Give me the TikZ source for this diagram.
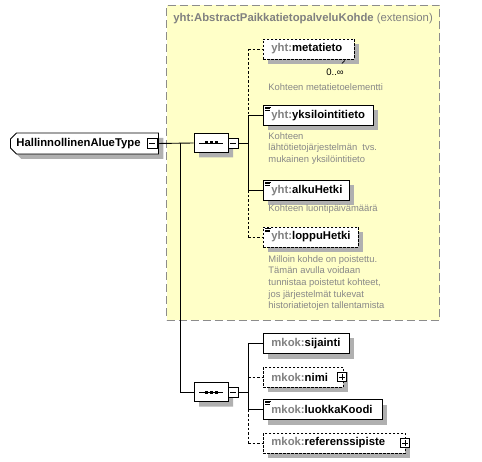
\documentclass[tikz,border=0pt]{standalone}
\usepackage{fontspec}
\setmainfont{Liberation Sans}
\usetikzlibrary{shapes.misc,shadows}
\definecolor{pfx}{HTML}{808080}
\definecolor{desctext}{HTML}{888888}
\definecolor{shade}{HTML}{B0B0B0}
\definecolor{extfill}{HTML}{FFFFC8}
\definecolor{extline}{HTML}{8C8C8C}
\newcommand{\yht}{{\color{pfx}yht:}}
\newcommand{\mkok}{{\color{pfx}mkok:}}
\begin{document}
\begin{tikzpicture}[x=1pt,y=-1pt,line width=0.9pt,
  shad/.style={drop shadow={shadow xshift=5pt,shadow yshift=-5pt,fill=shade,opacity=1}},
  elem/.style={draw=black,fill=white,rectangle,minimum height=20pt,inner xsep=8pt,inner ysep=0pt,
    text width=#1,anchor=west,align=left,font=\fontsize{11.3}{13}\selectfont\bfseries,shad},
  optelem/.style={elem=#1,dash pattern=on 2.5pt off 1.5pt},
  simple/.style={path picture={
    \draw[line width=0.6pt,solid] ([xshift=1.5pt,yshift=-1.6pt]path picture bounding box.north west) -- ++(6.5pt,0);
    \draw[line width=0.6pt,solid] ([xshift=1.5pt,yshift=-3.1pt]path picture bounding box.north west) -- ++(5pt,0);
    \draw[line width=0.6pt,solid] ([xshift=1.5pt,yshift=-4.6pt]path picture bounding box.north west) -- ++(5pt,0);}},
  descr/.style={anchor=north west,inner sep=0pt,align=left,text=desctext,
    font=\fontsize{9.4}{11.6}\selectfont},
  minusbox/.style={draw=black,fill=white,rectangle,minimum size=10pt,inner sep=0pt,line width=0.8pt,solid,
    path picture={\draw[line width=0.8pt] ([xshift=2pt]path picture bounding box.west) -- ([xshift=-2pt]path picture bounding box.east);}},
  plusbox/.style={draw=black,fill=white,rectangle,minimum size=9pt,inner sep=0pt,line width=0.8pt,solid,
    path picture={\draw[line width=0.8pt] ([xshift=1.8pt]path picture bounding box.west) -- ([xshift=-1.8pt]path picture bounding box.east);
      \draw[line width=0.8pt] ([yshift=-1.8pt]path picture bounding box.north) -- ([yshift=1.8pt]path picture bounding box.south);}},
  seqbox/.style={draw=black,fill=white,chamfered rectangle,chamfered rectangle xsep=5pt,chamfered rectangle ysep=5pt,
    minimum width=34pt,minimum height=19pt,inner sep=0pt,shad,
    path picture={\draw[line width=0.9pt,black] ([xshift=-12pt]path picture bounding box.center) -- ([xshift=12pt]path picture bounding box.center);
      \fill[black] ([xshift=-6.5pt,yshift=-1.5pt]path picture bounding box.center) rectangle ++(3pt,3pt);
      \fill[black] ([xshift=-1.5pt,yshift=-1.5pt]path picture bounding box.center) rectangle ++(3pt,3pt);
      \fill[black] ([xshift=3.5pt,yshift=-1.5pt]path picture bounding box.center) rectangle ++(3pt,3pt);}},
  typebox/.style={draw=black,fill=white,chamfered rectangle,chamfered rectangle corners={north west,south west},
    chamfered rectangle xsep=3pt,chamfered rectangle ysep=3pt,minimum height=21pt,inner xsep=3pt,inner ysep=0pt,
    text width=136pt,align=left,anchor=west,font=\fontsize{11.3}{13}\selectfont\bfseries,shad},
  optline/.style={dash pattern=on 2.5pt off 2pt}]
\useasboundingbox (0,0) rectangle (482,462);
% extension area
\node[draw=extline,fill=extfill,dash pattern=on 8pt off 4pt,line width=1pt,rectangle,
  minimum width=273pt,minimum height=315pt,anchor=north west,inner sep=0pt] (ext) at (166,5) {};
\node[anchor=base west,inner sep=0pt,text=pfx,font=\fontsize{11.3}{13}\selectfont] (title) at (173,22)
  {\bfseries yht:AbstractPaikkatietopalveluKohde \mdseries(extension)};
% main type
\node[typebox] (main) at (10,143.5) {HallinnollinenAlueType};
\node[minusbox] (mm) at (152,143.5) {};
% sequences
\node[seqbox] (s1) at (211,143) {};
\node[minusbox] (s1m) at (233,143) {};
\node[seqbox] (s2) at (211,392) {};
\node[minusbox] (s2m) at (233,392) {};
\coordinate (t1) at (180,143);
\coordinate (j1) at (248,143);
\coordinate (j2) at (248,392);
% sequence 1 children
\node[optelem=75pt] (e1) at (263,49) {\mbox{\yht metatieto}};
\node[elem=94pt,simple] (e2) at (263,115.5) {\mbox{\yht yksilointitieto}};
\node[elem=70pt,simple] (e3) at (263,190.5) {\mbox{\yht alkuHetki}};
\node[optelem=79pt,simple] (e4) at (263,237) {\mbox{\yht loppuHetki}};
\node[anchor=base,inner sep=0pt,font=\fontsize{9.5}{11}\selectfont] (occ) at (335,76) {0..∞};
\draw[line width=0.7pt] ([xshift=-10pt,yshift=-1pt]e1.south east) -- ++(-3pt,-3pt);
\node[descr] (d1) at (268,83) {Kohteen metatietoelementti};
\node[descr] (d2) at (268,132) {Kohteen\\lähtötietojärjestelmän\ \ tvs.\\mukainen yksilöintitieto};
\node[descr] (d3) at (268,204) {Kohteen luontipäivämäärä};
\node[descr] (d4) at (268,255) {Milloin kohde on poistettu.\\Tämän avulla voidaan\\tunnistaa poistetut kohteet,\\jos järjestelmät tukevat\\historiatietojen tallentamista};
% sequence 2 children
\node[elem=70pt] (f1) at (263,343.5) {\mbox{\mkok sijainti}};
\node[optelem=64pt] (f2) at (263,377) {\mbox{\mkok nimi}};
\node[plusbox] (f2p) at (342,377) {};
\node[elem=103pt,simple] (f3) at (263,409.5) {\mbox{\mkok luokkaKoodi}};
\node[optelem=126pt] (f4) at (263,443) {\mbox{\mkok referenssipiste}};
\node[plusbox] (f4p) at (405,443) {};
% connectors
\draw (mm.east) -- (s1.west);
\draw (t1) |- (s2.west);
\draw (s1m.east) -- (j1);
\draw (s2m.east) -- (j2);
\draw[optline] (j1 |- e1.west) -- (j1 |- e2.west);
\draw (j1 |- e2.west) -- (j1 |- e3.west);
\draw[optline] (j1 |- e3.west) -- (j1 |- e4.west);
\draw[optline] (j1 |- e1.west) -- (e1.west);
\draw (j1 |- e2.west) -- (e2.west);
\draw (j1 |- e3.west) -- (e3.west);
\draw[optline] (j1 |- e4.west) -- (e4.west);
\draw (j2 |- f1.west) -- (j2 |- f3.west);
\draw[optline] (j2 |- f3.west) -- (j2 |- f4.west);
\draw (j2 |- f1.west) -- (f1.west);
\draw[optline] (j2 |- f2.west) -- (f2.west);
\draw (j2 |- f3.west) -- (f3.west);
\draw[optline] (j2 |- f4.west) -- (f4.west);
\end{tikzpicture}
\end{document}
